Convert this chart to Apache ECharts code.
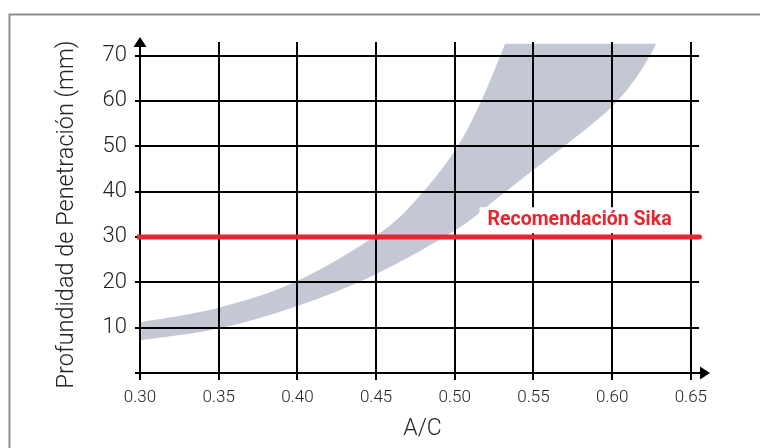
<!DOCTYPE html>
<html><head><meta charset="utf-8">
<script src="https://cdn.jsdelivr.net/npm/echarts@6/dist/echarts.min.js"></script>
<style>html,body{margin:0;padding:0;background:#fff}#c{width:760px;height:448px}</style>
</head><body><div id="c"></div>
<script>
// ---- data ----
const xTicks = [0.30, 0.35, 0.40, 0.45, 0.50, 0.55, 0.60, 0.65];
const yTicks = [0, 10, 20, 30, 40, 50, 60, 70];
// upper boundary of the grey band (A/C, depth mm)
const upperX = [0.30, 0.35, 0.40, 0.45, 0.475, 0.50, 0.5175, 0.532];
const upperY = [11.2, 14.4, 20.3, 30.3, 38.0, 49.0, 60.5, 72.6];
// lower boundary of the grey band
const lowerX = [0.30, 0.35, 0.40, 0.45, 0.50, 0.525, 0.55, 0.575, 0.60, 0.615, 0.624, 0.628];
const lowerY = [7.2, 9.8, 14.8, 21.8, 31.4, 38.0, 44.8, 51.5, 58.8, 65.0, 70.0, 72.6];
const recommendedDepth = 30;
const recommendedLabel = 'Recomendación Sika';
const xName = 'A/C';
const yName = 'Profundidad de Penetración (mm)';

// ---- chart ----
const X_MIN = 0.30, X_MAX = 0.659, Y_MIN = 0, Y_MAX = 73;
const GRID_X_LEFT = 0.2968, GRID_X_RIGHT = 0.6552, GRID_Y_BOTTOM = -1.55, GRID_Y_TOP = 73;
const RED = '#e52630';
const FONT = 'Roboto';

const chart = echarts.init(document.getElementById('c'), null, {renderer: 'canvas'});

// Catmull-Rom spline through pixel points -> SVG cubic segments
function splineSeg(pts, t) {
  let d = '';
  for (let i = 0; i < pts.length - 1; i++) {
    const p0 = pts[Math.max(i - 1, 0)], p1 = pts[i], p2 = pts[i + 1], p3 = pts[Math.min(i + 2, pts.length - 1)];
    const c1 = [p1[0] + (p2[0] - p0[0]) * t / 6, p1[1] + (p2[1] - p0[1]) * t / 6];
    const c2 = [p2[0] - (p3[0] - p1[0]) * t / 6, p2[1] - (p3[1] - p1[1]) * t / 6];
    d += ` C${c1[0]},${c1[1]} ${c2[0]},${c2[1]} ${p2[0]},${p2[1]}`;
  }
  return d;
}

const option = {
  animation: false,
  backgroundColor: '#fff',
  graphic: [{
    type: 'rect', left: 7, top: 12, z: 0,
    shape: {width: 900, height: 600},
    style: {fill: 'none', stroke: '#8e8e8e', lineWidth: 2}
  }],
  grid: {left: 140, top: 42, width: 565, height: 331, containLabel: false},
  xAxis: {
    type: 'value', min: X_MIN, max: X_MAX, interval: 0.05,
    name: xName, nameLocation: 'middle', nameGap: 45,
    nameTextStyle: {fontFamily: FONT, fontWeight: 300, fontSize: 23, color: '#222'},
    axisLine: {show: true, lineStyle: {color: '#000', width: 2},
      symbol: ['none', 'triangle'], symbolSize: [13, 10], symbolOffset: [0, 0]},
    axisTick: {show: false},
    splitLine: {show: false},
    axisLabel: {show: true, margin: 16, showMaxLabel: false,
      fontFamily: FONT, fontWeight: 300, fontSize: 17, color: '#222',
      formatter: v => v.toFixed(2)}
  },
  yAxis: {
    type: 'value', min: Y_MIN, max: Y_MAX, interval: 10,
    name: yName, nameLocation: 'middle', nameGap: 61,
    nameTextStyle: {fontFamily: FONT, fontWeight: 300, fontSize: 23.5, color: '#222', padding: [0, 14, 0, 0]},
    axisLine: {show: true, lineStyle: {color: '#000', width: 2},
      symbol: ['none', 'triangle'], symbolSize: [13, 10], symbolOffset: [0, 0]},
    axisTick: {show: false},
    splitLine: {show: false},
    axisLabel: {show: true, margin: 13, showMaxLabel: false, showMinLabel: false,
      fontFamily: FONT, fontWeight: 300, fontSize: 22, color: '#222'}
  },
  series: [
    {
      type: 'custom', name: 'band', z: 1, clip: false,
      data: [[X_MIN, Y_MIN]],
      renderItem: (params, api) => {
        const up = upperX.map((x, i) => api.coord([x, upperY[i]]));
        const lo = lowerX.map((x, i) => api.coord([x, lowerY[i]])).reverse();
        const d = `M${up[0][0]},${up[0][1]}` + splineSeg(up, 1) +
          ` L${lo[0][0]},${lo[0][1]}` + splineSeg(lo, 1) + ' Z';
        return {type: 'path', shape: {pathData: d},
          style: {fill: '#c4c8d5', stroke: 'none'}};
      }
    },
    {
      type: 'custom', name: 'vgrid', z: 3, clip: false,
      data: xTicks.map(v => [v, 0]),
      renderItem: (params, api) => {
        const a = api.coord([api.value(0), GRID_Y_BOTTOM]);
        const b = api.coord([api.value(0), GRID_Y_TOP]);
        return {type: 'line', shape: {x1: Math.round(a[0]), y1: a[1], x2: Math.round(b[0]), y2: b[1]},
          style: {stroke: '#000', lineWidth: 2}};
      }
    },
    {
      type: 'custom', name: 'hgrid', z: 3, clip: false,
      data: yTicks.map(v => [X_MIN, v]),
      renderItem: (params, api) => {
        const a = api.coord([GRID_X_LEFT, api.value(1)]);
        const b = api.coord([GRID_X_RIGHT, api.value(1)]);
        return {type: 'line', shape: {x1: a[0], y1: Math.round(a[1]), x2: b[0], y2: Math.round(b[1])},
          style: {stroke: '#000', lineWidth: 2}};
      }
    },
    {
      type: 'line', name: recommendedLabel, z: 5, silent: true,
      symbol: 'none',
      data: [[0.2975, recommendedDepth], [0.6555, recommendedDepth]],
      lineStyle: {color: RED, width: 5, cap: 'round'},
      markPoint: {
        symbol: 'rect', symbolSize: 0, silent: true, z: 6,
        data: [{coord: [0.5793, recommendedDepth + 3.7], value: recommendedLabel}],
        label: {show: true, position: 'inside', formatter: recommendedLabel,
          fontFamily: FONT, fontWeight: 'bold', fontSize: 19.5, color: RED,
          backgroundColor: '#fff', padding: [3, 8, 3, 8]}
      }
    }
  ]
};
chart.setOption(option);
</script>
</body></html>
